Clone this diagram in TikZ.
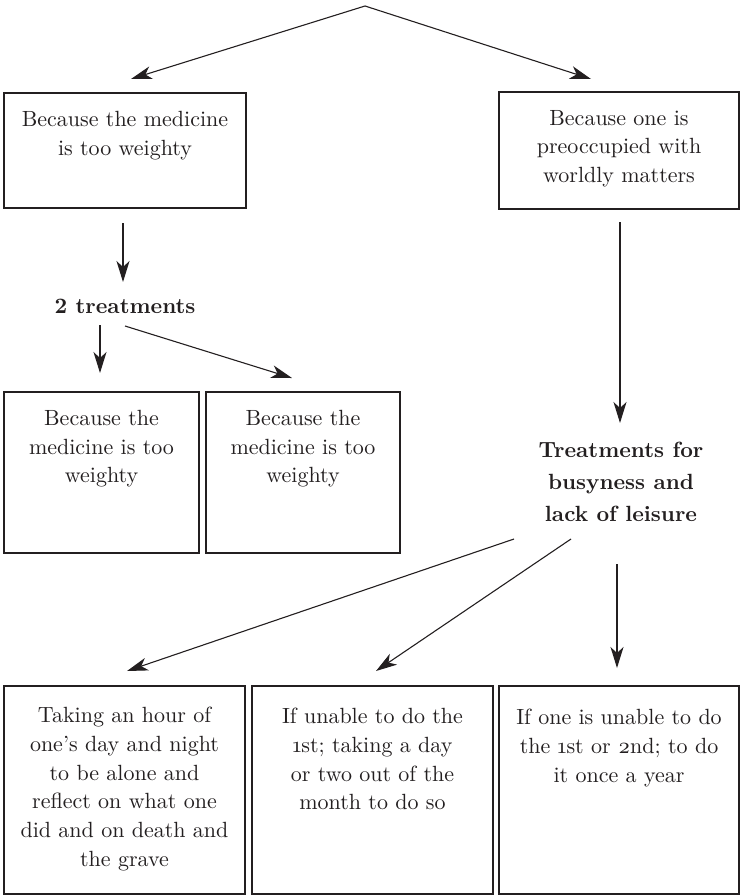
\documentclass[tikz,border=0pt]{standalone}
\usepackage{fontspec}
% use the 10pt design of Latin Modern at every size (wider and darker than the large designs)
\setmainfont{lmroman10}[Extension=.otf, UprightFont=*-regular, BoldFont=*-bold,
  ItalicFont=*-italic, BoldItalicFont=*-bolditalic]
\usetikzlibrary{arrows.meta}
\definecolor{ink}{HTML}{231F20}
\begin{document}
\begin{tikzpicture}[x=1pt,y=-1pt,
  box/.style={draw=ink, line width=1.3pt, anchor=north west, inner sep=0pt, outer sep=0pt},
  txt/.style={anchor=north, inner sep=0pt, align=center, text=ink,
    font=\fontsize{22}{28.7}\selectfont, execute at begin node={\rule{0pt}{16pt}}},
  head/.style={anchor=north, inner sep=0pt, align=center, text=ink,
    font=\fontsize{22}{32}\selectfont\bfseries, execute at begin node={\rule{0pt}{16pt}}},
  link/.style={draw=ink, line width=1.1pt, -{Stealth[length=21pt,width=13pt,inset=6pt]}}]
\useasboundingbox (0,0) rectangle (741,896);

% boxes
\node[box, minimum width=242pt, minimum height=115pt] (A) at (4,93) {};
\node[box, minimum width=240pt, minimum height=117pt] (B) at (499,92) {};
\node[box, minimum width=195pt, minimum height=161pt] (C) at (4,392) {};
\node[box, minimum width=194pt, minimum height=161pt] (D) at (206,392) {};
\node[box, minimum width=241pt, minimum height=208pt] (E) at (4,686) {};
\node[box, minimum width=241pt, minimum height=208pt] (F) at (252,686) {};
\node[box, minimum width=240pt, minimum height=208pt] (G) at (499,686) {};

% box texts
\node[txt] (tA) at (125,111) {Because the medicine\\is too weighty};
\node[txt] (tB) at (619,110) {Because one is\\preoccupied with\\worldly matters};
\node[txt] (tC) at (101.5,410) {Because the\\medicine is too\\weighty};
\node[txt] (tD) at (303,410) {Because the\\medicine is too\\weighty};
\node[txt] (tE) at (124.5,707) {Taking an hour of\\one's day and night\\to be alone and\\reflect on what one\\did and on death and\\the grave};
\node[txt] (tF) at (372.5,708) {If unable to do the\\\oldstylenums{1}st; taking a day\\or two out of the\\month to do so};
\node[txt] (tG) at (619,709) {If one is unable to do\\the \oldstylenums{1}st or \oldstylenums{2}nd; to do\\it once a year};

% headings
\node[head] (two) at (125,297) {2 treatments};
\node[head] (busy) at (621,442) {Treatments for\\busyness and\\lack of leisure};

% connector end points
\coordinate (apex) at (365,6);
\coordinate (apexL) at (131,79);
\coordinate (apexR) at (591,79);
\coordinate (aS) at (123,223);
\coordinate (aE) at (123,282);
\coordinate (twoL) at (100,325);
\coordinate (twoLe) at (100,373);
\coordinate (twoR) at (125,326);
\coordinate (twoRe) at (292,378);
\coordinate (bS) at (620,222);
\coordinate (bE) at (620,423);
\coordinate (busy1) at (514,539);
\coordinate (busy1e) at (127,671);
\coordinate (busy2) at (571,539);
\coordinate (busy2e) at (376,671);
\coordinate (busy3) at (617,564);
\coordinate (busy3e) at (617,668);

% connectors
\draw[link] (apex) -- (apexL);
\draw[link] (apex) -- (apexR);
\draw[link] (aS) -- (aE);
\draw[link] (twoL) -- (twoLe);
\draw[link] (twoR) -- (twoRe);
\draw[link] (bS) -- (bE);
\draw[link] (busy1) -- (busy1e);
\draw[link] (busy2) -- (busy2e);
\draw[link] (busy3) -- (busy3e);
\end{tikzpicture}
\end{document}
